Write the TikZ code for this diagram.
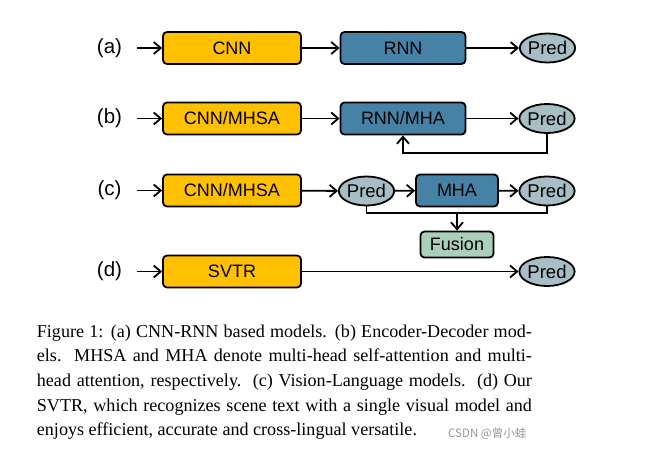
\documentclass[tikz,border=0pt]{standalone}
\usepackage{fontspec}
\setmainfont{Liberation Serif}
\newfontfamily\arial{Liberation Sans}
\newfontfamily\cjk{Noto Sans CJK SC}
\usetikzlibrary{arrows.meta,shapes.geometric}
\definecolor{orangebox}{RGB}{255,192,0}
\definecolor{bluebox}{RGB}{70,130,165}
\definecolor{predfill}{RGB}{166,190,196}
\definecolor{fusionfill}{RGB}{170,208,186}
\definecolor{wmgray}{RGB}{150,150,150}
\tikzset{
  boxbase/.style={draw=black, line width=1.8pt, rounded corners=4pt, inner sep=0pt,
    minimum height=32pt, font=\arial\fontsize{18}{20}\selectfont},
  encbox/.style={boxbase, fill=orangebox, minimum width=138pt},
  decbox/.style={boxbase, fill=bluebox, minimum width=125pt},
  mhabox/.style={boxbase, fill=bluebox, minimum width=82pt},
  fusbox/.style={boxbase, fill=fusionfill, minimum width=73pt, minimum height=26pt},
  predell/.style={draw=black, line width=1.8pt, ellipse, fill=predfill, inner sep=0pt,
    minimum width=53pt, minimum height=29pt, font=\arial\fontsize{18.5}{20}\selectfont},
  rowlabel/.style={font=\arial\fontsize{20.5}{22}\selectfont, inner sep=0pt},
  conn/.style={line width=1.8pt, -{Straight Barb[length=7pt,width=12pt,line width=1.8pt]}},
  plainline/.style={line width=1.8pt},
  capline/.style={anchor=base west, inner sep=0pt, font=\fontsize{18.1}{24.7}\selectfont}
}
\begin{document}
\begin{tikzpicture}[x=1pt,y=-1pt]
\useasboundingbox (0,0) rectangle (646,452);
% row a
\node[rowlabel] (la) at (109.5,48) {(a)};
\coordinate (ia) at (137,48);
\node[encbox] (cnna) at (232,48) {CNN};
\node[decbox] (rnna) at (403,48) {RNN};
\node[predell] (preda) at (547.5,48) {Pred};
\draw[conn] (ia) -- (cnna);
\draw[conn] (cnna) -- (rnna);
\draw[conn] (rnna) -- (preda);
% row b
\node[rowlabel] (lb) at (109.5,118.5) {(b)};
\coordinate (ib) at (137,118.5);
\node[encbox] (cnnb) at (232,118.5) {CNN/MHSA};
\node[decbox] (rnnb) at (403,118.5) {RNN/MHA};
\node[predell] (predb) at (547,118.5) {Pred};
\coordinate (fbb) at (547,153.3);
\coordinate (fba) at (403,153.3);
\draw[conn] (ib) -- (cnnb);
\draw[conn] (cnnb) -- (rnnb);
\draw[conn] (rnnb) -- (predb);
\draw[conn] (predb.south) -- (fbb) -- (fba) -- (rnnb.south -| fba);
% row c
\node[rowlabel] (lc) at (109.5,190.5) {(c)};
\coordinate (ic) at (137,190.5);
\node[encbox] (cnnc) at (232,190.5) {CNN/MHSA};
\node[predell] (predc1) at (366.5,191) {Pred};
\node[mhabox] (mhac) at (457,190.5) {MHA};
\node[predell] (predc2) at (547,191) {Pred};
\node[fusbox] (fusc) at (457,244.5) {Fusion};
\coordinate (jc1) at (366.5,213.3);
\coordinate (jc2) at (547,213.3);
\coordinate (jcm) at (457,213.3);
\draw[conn] (ic) -- (cnnc);
\draw[conn] (cnnc) -- (predc1);
\draw[conn] (predc1) -- (mhac);
\draw[conn] (mhac) -- (predc2);
\draw[plainline] (predc1.south) -- (jc1) -- (jc2) -- (predc2.south);
\draw[conn] (jcm) -- (fusc);
% row d
\node[rowlabel] (ld) at (109.5,271.5) {(d)};
\coordinate (id) at (137,271.5);
\node[encbox] (svtr) at (232,271.5) {SVTR};
\node[predell] (predd) at (547,271.5) {Pred};
\draw[conn] (id) -- (svtr);
\draw[conn] (svtr) -- (predd);
% caption
\node[capline] (c1) at (36.7,337) {\makebox[495pt][s]{Figure 1: (a) CNN-RNN based models. (b) Encoder-Decoder mod-}};
\node[capline] (c2) at (36.7,361.7) {\makebox[495pt][s]{els.\ \ MHSA and MHA denote multi-head self-attention and multi-}};
\node[capline] (c3) at (36.7,386.4) {\makebox[495pt][s]{head attention, respectively.\ \ (c) Vision-Language models.\ \ (d) Our}};
\node[capline] (c4) at (36.7,411.1) {\makebox[495pt][s]{SVTR, which recognizes scene text with a single visual model and}};
\node[capline] (c5) at (36.7,435.8) {enjoys efficient, accurate and cross-lingual versatile.};
\node[anchor=base west, inner sep=0pt, text=wmgray, font=\cjk\fontsize{11.5}{12}\selectfont] (wm) at (448,437) {CSDN @曾小蛙};
\end{tikzpicture}
\end{document}
